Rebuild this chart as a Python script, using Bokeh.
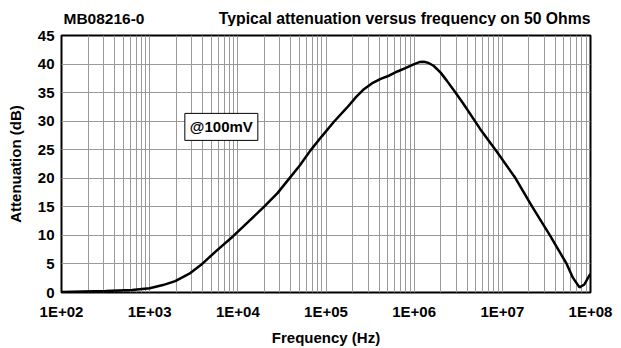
from bokeh.plotting import figure
from bokeh.models import FixedTicker, Label
from bokeh.layouts import column
from bokeh.embed import file_html
from bokeh.resources import INLINE

# Data (log10 of frequency, attenuation dB)
log_freq = [2.0, 2.5, 2.8, 3.0, 3.15, 3.29, 3.45, 3.58, 3.75, 3.95, 4.1, 4.29,
            4.45, 4.58, 4.7, 4.82, 4.95, 5.09, 5.24, 5.34, 5.43, 5.52, 5.62, 5.72,
            5.81, 5.9, 6.0, 6.06, 6.11, 6.16, 6.22, 6.3, 6.37, 6.46, 6.56, 6.75,
            6.94, 7.15, 7.34, 7.54, 7.73, 7.8, 7.875, 7.93, 7.97, 8.0]
atten_db = [0.1, 0.25, 0.45, 0.75, 1.3, 2.0, 3.3, 4.8, 7.2, 9.9, 12.1, 14.9,
            17.4, 19.9, 22.2, 24.8, 27.3, 29.9, 32.4, 34.2, 35.6, 36.6, 37.4, 38.0,
            38.7, 39.3, 40.0, 40.35, 40.4, 40.2, 39.7, 38.5, 37.1, 35.2, 33.0, 28.6,
            24.6, 20.0, 15.0, 10.0, 5.0, 2.6, 0.9, 1.4, 2.5, 3.3]
freq = [10 ** v for v in log_freq]

x_major = [1e2, 1e3, 1e4, 1e5, 1e6, 1e7, 1e8]
x_labels = ["1E+02", "1E+03", "1E+04", "1E+05", "1E+06", "1E+07", "1E+08"]
y_ticks = [0, 5, 10, 15, 20, 25, 30, 35, 40, 45]

title_left = "MB08216-0"
title_right = "Typical attenuation versus frequency on 50 Ohms"
note = "@100mV"

FONT = "Liberation Sans"
FS = "15px"

# header strip with the two titles (its frame is aligned with the chart frame)
head = figure(width=621, height=26, x_range=(61, 590), y_range=(0, 26),
              output_backend="svg", toolbar_location=None,
              x_axis_location=None, y_axis_location=None, min_border=0)
head.outline_line_color = None
head.xgrid.visible = False
head.ygrid.visible = False
head.add_layout(Label(x=63, y=8.5, text=title_left, text_font=FONT,
                      text_font_style="bold", text_font_size="15.5px",
                      text_color="black",
                      text_align="left", text_baseline="alphabetic"))
head.add_layout(Label(x=590, y=8.5, text=title_right, text_font=FONT,
                      text_font_style="bold", text_font_size="15.75px",
                      text_color="black",
                      text_align="right", text_baseline="alphabetic"))

p = figure(width=621, height=322, x_axis_type="log", output_backend="svg",
           toolbar_location=None, x_range=(1e2, 1e8), y_range=(0, 45),
           min_border_left=61, min_border_right=31, min_border_top=9,
           min_border_bottom=56)

p.outline_line_color = "black"
p.outline_line_width = 2

# grid
all_x = []
for d in x_major[:-1]:
    for k in range(1, 10):
        all_x.append(d * k)
all_x.append(1e8)
p.xgrid.ticker = FixedTicker(ticks=all_x)
p.xgrid.grid_line_color = "#9a9a9a"
p.xgrid.grid_line_width = 1
p.ygrid.ticker = FixedTicker(ticks=y_ticks)
p.ygrid.grid_line_color = "#9a9a9a"
p.ygrid.grid_line_width = 1

# axes
p.xaxis.ticker = FixedTicker(ticks=x_major, minor_ticks=[])
p.xaxis.major_label_overrides = {v: s for v, s in zip(x_major, x_labels)}
p.yaxis.ticker = FixedTicker(ticks=y_ticks, minor_ticks=[])
for ax in (p.xaxis, p.yaxis):
    ax.axis_line_color = None
    ax.major_tick_line_color = None
    ax.minor_tick_line_color = None
    ax.major_tick_out = 0
    ax.major_tick_in = 0
    ax.major_label_text_font = FONT
    ax.major_label_text_font_style = "bold"
    ax.major_label_text_font_size = FS
    ax.major_label_text_color = "black"
    ax.axis_label_text_font = FONT
    ax.axis_label_text_font_style = "bold"
    ax.axis_label_text_font_size = FS
    ax.axis_label_text_color = "black"
p.xaxis.major_label_standoff = 10
p.yaxis.major_label_standoff = 7
p.xaxis.axis_label = "Frequency (Hz)"
p.yaxis.axis_label = "Attenuation (dB)"
p.xaxis.axis_label_standoff = 6
p.yaxis.axis_label_standoff = 11

p.line(freq, atten_db, line_color="black", line_width=2.5)

p.add_layout(Label(x=6.5e3, y=29, text=note, text_font=FONT, text_font_style="bold",
                   text_font_size=FS, text_color="black",
                   text_align="center", text_baseline="middle",
                   background_fill_color="white", border_line_color="black",
                   border_line_width=1, padding=5))

layout = column(head, p, spacing=0)
open("out.html", "w").write(file_html(layout, INLINE))
